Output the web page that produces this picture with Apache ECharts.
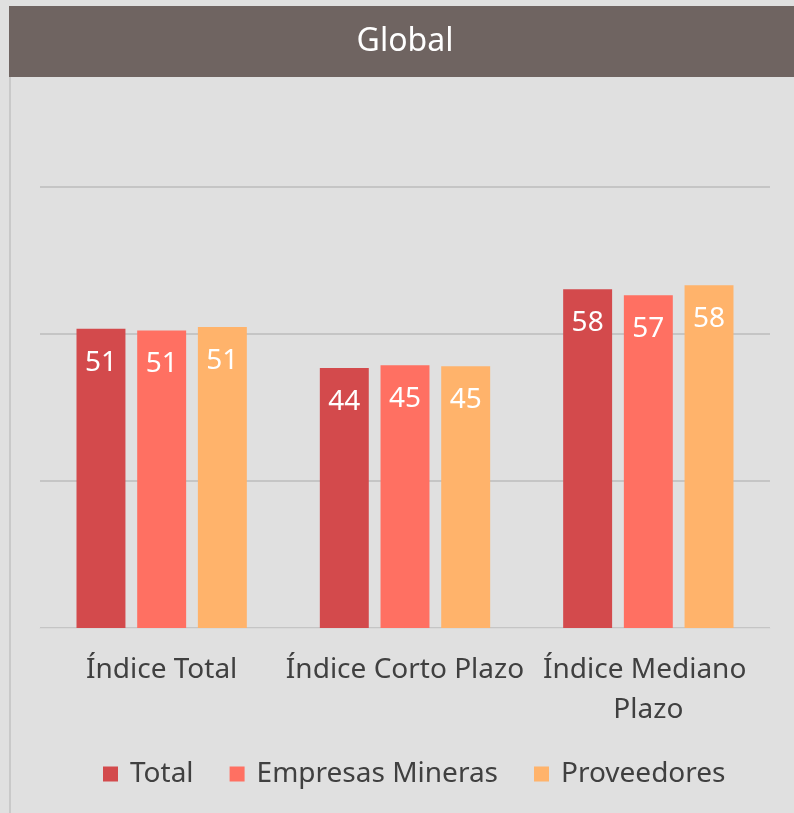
<!DOCTYPE html>
<html>
<head>
<meta charset="utf-8">
<script src="https://cdn.jsdelivr.net/npm/echarts@6/dist/echarts.min.js"></script>
<style>
  html, body { margin: 0; padding: 0; background: #e0e0e0; }
  #chart { width: 794px; height: 813px; }
</style>
</head>
<body>
<div id="chart"></div>
<script>
  // datos
  var categorias = ['Índice Total', 'Índice Corto Plazo', 'Índice Mediano Plazo'];
  var total = [50.9, 44.2, 57.6];
  var empresasMineras = [50.6, 44.7, 56.6];
  var proveedores = [51.2, 44.5, 58.3];
  var nombres = ['Total', 'Empresas Mineras', 'Proveedores'];

  var colores = ['#d34a4c', '#ff7062', '#ffb36b'];
  var fuente = 'Noto Sans';

  var myChart = echarts.init(document.getElementById('chart'));

  function serie(nombre, datos) {
    return {
      name: nombre,
      type: 'bar',
      data: datos,
      barGap: '24%',
      barCategoryGap: '30%',
      label: {
        show: true,
        position: 'insideTop',
        distance: 20,
        color: '#ffffff',
        fontSize: 28,
        fontFamily: fuente,
        formatter: function (p) { return Math.round(p.value); }
      }
    };
  }

  var option = {
    backgroundColor: '#e0e0e0',
    color: colores,
    animation: false,
    graphic: [
      {
        type: 'rect',
        shape: { x: 9, y: 6, width: 785, height: 71 },
        style: { fill: '#6f6461' }
      },
      {
        type: 'text',
        x: 405,
        y: 42,
        style: {
          text: 'Global',
          fill: '#ffffff',
          font: '32px ' + fuente,
          textAlign: 'center',
          textVerticalAlign: 'middle'
        }
      },
      {
        type: 'line',
        shape: { x1: 10, y1: 77, x2: 10, y2: 813 },
        style: { stroke: '#c9c9c9', lineWidth: 2 }
      }
    ],
    grid: {
      left: 40,
      right: 24,
      top: 187,
      bottom: 185
    },
    legend: {
      data: nombres,
      bottom: 20,
      left: 98,
      itemWidth: 15,
      itemHeight: 15,
      itemGap: 36,
      icon: 'rect',
      textStyle: { fontSize: 28, color: '#404040', fontFamily: fuente, padding: [0, 0, 0, 7] }
    },
    xAxis: {
      type: 'category',
      data: categorias,
      axisTick: { show: false },
      axisLine: { lineStyle: { color: '#d9d9d9', width: 1 } },
      axisLabel: {
        interval: 0,
        color: '#404040',
        fontSize: 28,
        fontFamily: fuente,
        margin: 22,
        width: 262,
        overflow: 'break',
        lineHeight: 40
      },
      z: 5
    },
    yAxis: {
      type: 'value',
      min: 0,
      max: 75,
      interval: 25,
      axisLabel: { show: false },
      axisLine: { show: false },
      axisTick: { show: false },
      splitLine: { lineStyle: { color: '#bdbdbd', width: 1.5 } }
    },
    series: [
      serie(nombres[0], total),
      serie(nombres[1], empresasMineras),
      serie(nombres[2], proveedores)
    ]
  };

  myChart.setOption(option);
</script>
</body>
</html>
